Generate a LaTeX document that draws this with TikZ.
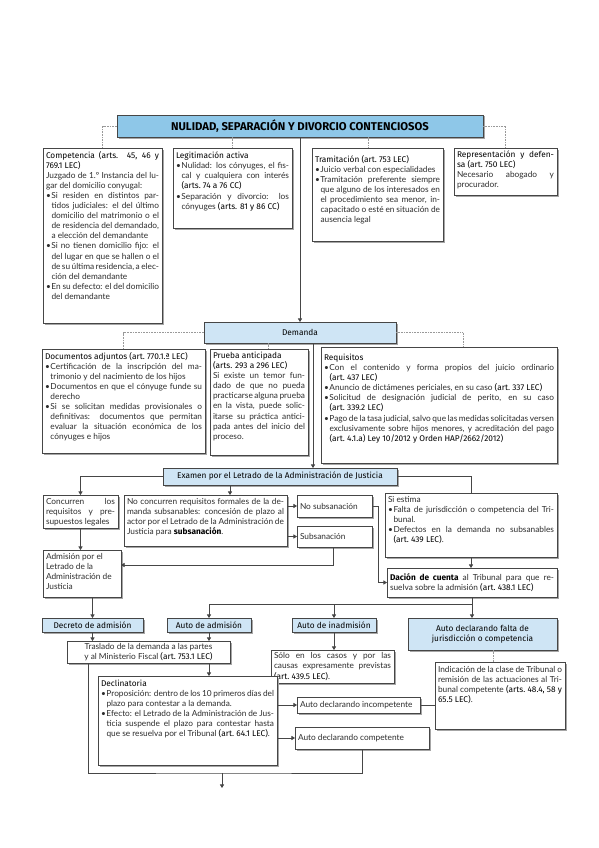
\documentclass[tikz,border=0pt]{standalone}
\usepackage{fontspec}
\setmainfont{Lato}
\newfontfamily\hdfont{Fira Sans}
\usetikzlibrary{arrows.meta,shadows}

\definecolor{titleblue}{RGB}{142,199,232}
\definecolor{lblue}{RGB}{207,229,245}
\definecolor{bord}{RGB}{70,70,70}
\definecolor{bodycol}{RGB}{45,45,45}

\newcommand\body{\fontsize{8.3}{10.1}\selectfont\color{bodycol}}
\newcommand\hd[1]{{\hdfont\color{black}#1}}
\newcommand\ct[1]{{\hdfont\color{black}#1}}
\newcommand\bl{\par\hangindent=5.5pt\hangafter=1\noindent\makebox[5.5pt][l]{\textbullet}}

% #1 name, #2 style, #3 inner pos, #4 x1, #5 y1, #6 x2, #7 y2, #8 text
\newcommand\bx[8]{%
 \pgfmathsetlengthmacro\tw{#6-#4-6}%
 \pgfmathsetlengthmacro\ih{#7-#5-6}%
 \node[#2, inner sep=3pt, anchor=north west] (#1) at (#4,#5) {\parbox[t][\ih][#3]{\tw}{\body #8}};%
}

\tikzset{
 box/.style={draw=bord, line width=0.8pt, fill=white, outer sep=0pt,
   drop shadow={shadow xshift=1.5pt, shadow yshift=-1.5pt, fill=black!35, opacity=1}},
 bbox/.style={box, fill=lblue},
 tbox/.style={box, fill=titleblue},
 ln/.style={draw=bord, line width=0.7pt},
 arr/.style={ln, -{Triangle[width=4.2pt,length=3.6pt]}},
 dot/.style={draw=black!40, line width=0.6pt, densely dotted},
}

\begin{document}
\begin{tikzpicture}[x=1pt,y=-1pt]
\fill[white] (0,0) rectangle (599,848);
\useasboundingbox (0,0) rectangle (599,848);

% ---------- row 1
\bx{title}{tbox}{c}{117}{115}{483}{137}{\centering\hdfont\bfseries\color{black}\fontsize{11.3}{12}\selectfont NULIDAD, SEPARACIÓN Y DIVORCIO CONTENCIOSOS}
\bx{comp}{box}{t}{43}{148}{162}{323}{\hd{Competencia} \ct{(arts. 45, 46 y\linebreak 769.1~LEC)}\par
Juzgado de 1.º Instancia del lugar del domicilio conyugal:
\bl Si residen en distintos par\-tidos judiciales: el del últi\-mo domicilio del matrimo\-nio o el de residencia del demandado, a elección del demandante
\bl Si no tienen domicilio fijo: el del lugar en que se ha\-llen o el de su última resi\-dencia, a elección del de\-mandante
\bl En su defecto: el del domi\-cilio del demandante}
\bx{legit}{box}{t}{173}{148}{292}{228}{\vspace*{1pt}\hd{Legitimación activa}
\bl Nulidad: los cónyuges, el fiscal y cualquiera con in\-terés \ct{(arts.~74 a~76~CC)}
\bl Separación y divorcio: los cónyuges \ct{(arts. 81 y 86 CC)}}
\bx{tram}{box}{t}{312}{148}{443}{241}{\vspace*{4pt}\hd{Tramitación} \ct{(art.~753~LEC)}
\bl Juicio verbal con especialidades
\bl Tramitación preferente siem\-pre que alguno de los intere\-sados en el procedimiento sea menor, incapacitado o esté en situación de ausencia legal}
\bx{repr}{box}{t}{454}{148}{557}{195}{\hd{Representación y defen-\linebreak sa (art.~750~LEC)}\par
Necesario abogado y procurador.}

% ---------- Demanda
\bx{dem}{bbox}{c}{204}{322}{396}{343}{\centering\hd{Demanda}}
\bx{docs}{box}{t}{42}{349}{205}{453}{\hd{Documentos adjuntos} \ct{(art.~770.1.ª~LEC)}
\bl Certificación de la inscripción del ma\-trimonio y del nacimiento de los hijos
\bl Documentos en que el cónyuge funde su derecho
\bl Si se solicitan medidas provisionales o definitivas: documentos que permitan evaluar la situación económica de los cónyuges e hijos}
\bx{prueba}{box}{t}{210}{349}{308}{455}{\hd{Prueba anticipada}\par\ct{(arts. 293 a 296 LEC)}\par
Si existe un temor fun\-dado de que no pue\-da practicarse alguna prueba en la vista, pue\-de solicitarse su prácti\-ca anticipada antes del inicio del proceso.}
\bx{req}{box}{t}{321}{347}{557}{463}{\vspace*{4pt}\hd{Requisitos}
\bl Con el contenido y forma propios del juicio ordinario \ct{(art.~437~LEC)}
\bl Anuncio de dictámenes periciales, en su caso \ct{(art.~337~LEC)}
\bl Solicitud de designación judicial de perito, en su caso \ct{(art.~339.2~LEC)}
\bl Pago de la tasa judicial, salvo que las medidas solicita\-das versen exclusivamente sobre hijos menores, y acre\-ditación del pago \ct{(art.~4.1.a) Ley 10/2012 y Orden HAP/2662/2012)}}

% ---------- Examen
\bx{exam}{bbox}{c}{163}{468}{397}{485}{\centering\hd{Examen por el Letrado de la Administración de Justicia}}
\bx{conc}{box}{t}{43}{495}{118}{528}{Concurren\hfill los\linebreak requisitos y pre-\linebreak supuestos legales}
\bx{noconc}{box}{t}{124}{495}{287}{546}{No concurren requisitos formales de la demanda subsanables: concesión de plazo al actor por el Letrado de la Admi\-nistración de Justicia para \ct{\bfseries subsanación}.}
\bx{nosub}{box}{c}{297}{495}{372}{517}{No subsanación}
\bx{sub}{box}{c}{297}{526}{372}{547}{Subsanación}
\bx{siest}{box}{t}{385}{493}{557}{557}{Si estima
\bl Falta de jurisdicción o competencia del Tribunal.
\bl Defectos en la demanda no subsanables \ct{(art.~439~LEC)}.}
\bx{dacion}{box}{c}{387}{568}{557}{597}{\ct{\bfseries Dación de cuenta} al Tribunal para que re\-suelva sobre la admisión \ct{(art.~438.1~LEC)}}
\bx{admis}{box}{t}{43}{550}{121}{597}{\raggedright Admisión por el Letrado de la Administración de Justicia}

% ---------- Autos
\bx{decreto}{bbox}{c}{42}{618}{143}{632}{\centering\hd{Decreto de admisión}}
\bx{autoadm}{bbox}{c}{167}{618}{251}{632}{\centering\hd{Auto de admisión}}
\bx{autoinadm}{bbox}{c}{292}{618}{376}{632}{\centering\hd{Auto de inadmisión}}
\bx{falta}{bbox}{c}{408}{618}{557}{650}{\centering\hd{Auto declarando falta de\\ jurisdicción o competencia}}
\bx{traslado}{box}{c}{67}{641}{230}{663}{\centering Traslado de la demanda a las partes\\ y al Ministerio Fiscal \ct{(art.~753.1~LEC)}}
\bx{solo}{box}{c}{271}{650}{394}{683}{Sólo en los casos y por las causas expresamente previstas \ct{(art.~439.5~LEC)}.}
\bx{indic}{box}{t}{435}{662}{565}{729}{\vspace*{1pt}Indicación de la clase de Tribunal o remisión de las actuaciones al Tribunal com\-petente \ct{(arts.~48.4, 58 y 65.5 LEC)}.}
\bx{declin}{box}{t}{98}{676}{277}{765}{\vspace*{1pt}\hd{Declinatoria}
\bl Proposición: dentro de los 10 primeros días del plazo para contestar a la demanda.
\bl Efecto: el Letrado de la Administración de Jus\-ticia suspende el plazo para contestar hasta que se resuelva por el Tribunal \ct{(art.~64.1~LEC)}.}
\bx{incomp}{box}{c}{297}{697}{420}{713}{Auto declarando incompetente}
\bx{comp2}{box}{c}{295}{727}{429}{749}{Auto declarando competente}

% ---------- coordinates
\coordinate (tramin) at ([xshift=-9.5pt]tram.north);
\coordinate (prin) at ([xshift=9pt]prueba.north);
\coordinate (reqin) at ([xshift=24pt]req.north);
\coordinate (demout) at ([xshift=13pt]dem.south);
\coordinate (exout) at ([xshift=-50pt]exam.south);
\coordinate (nsr) at ([xshift=6pt]nosub.east);
\coordinate (subout) at ([xshift=-1.5pt]sub.south);
\coordinate (admin) at ([yshift=8.5pt]admis.east);
\coordinate (br) at ([yshift=-7pt]dacion.south);
\coordinate (fain) at ([xshift=10.5pt]falta.south);
\coordinate (trl) at ([xshift=-60.5pt]traslado.south);
\coordinate (jb) at (222,773);
\coordinate (endp) at (222,788);

% ---------- connectors
\draw[dot] (title.west) -| (comp.north);
\draw[dot] (legit.north |- title.south) -- (legit.north);
\draw[dot] (tramin |- title.south) -- (tramin);
\draw[dot] (title.east) -| (repr.north);
\draw[arr] (title.south) -- (dem.north);
\draw[dot] (dem.west) -| (docs.north);
\draw[dot] (prin |- dem.south) -- (prin);
\draw[dot] (dem.east) -| (reqin);
\draw[arr] (demout) -- (demout |- exam.north);
\draw[arr] (exam.west) -| (conc.north);
\draw[arr] (exout) -- (exout |- noconc.north);
\draw[ln] (exam.east) -| (siest.north);
\draw[arr] (nosub.west -| noconc.east) -- (nosub.west);
\draw[arr] (sub.west -| noconc.east) -- (sub.west);
\draw[arr] (nosub.east) -- (nsr) |- (dacion.west);
\draw[arr] (subout) |- (admin);
\draw[arr] (siest.south) -- (siest.south |- dacion.north);
\draw[arr] (conc.south) -- (conc.south |- admis.north);
\draw[arr] (decreto.north |- admis.south) -- (decreto.north);
\draw[arr] (dacion.south) -- (dacion.south |- falta.north);
\draw[arr] (br) -| (autoadm.north);
\draw[arr] (autoinadm.north |- br) -- (autoinadm.north);
\draw[arr] (decreto.south) -- (decreto.south |- traslado.north);
\draw[arr] (autoadm.south) -- (autoadm.south |- traslado.north);
\draw[arr] (autoinadm.south) -- (autoinadm.south |- solo.north);
\draw[dot] (fain) -- (fain |- indic.north);
\draw[arr] (autoadm.south |- traslado.south) -- (autoadm.south |- declin.north);
\draw[arr] (incomp.west -| declin.east) -- (incomp.west);
\draw[arr] (comp2.west -| declin.east) -- (comp2.west);
\draw[ln] (incomp.east) -- (incomp.east -| indic.west);
\draw[ln] (trl) |- (jb) -| (comp2.south);
\draw[arr] (jb) -- (endp);
\end{tikzpicture}
\end{document}
